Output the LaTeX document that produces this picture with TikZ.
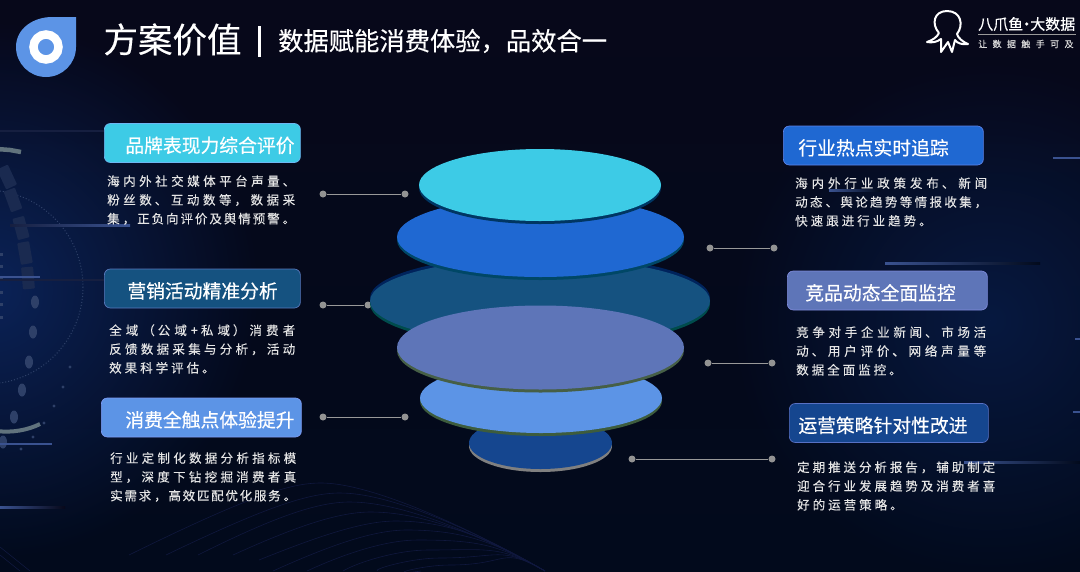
\documentclass[tikz,border=0pt]{standalone}
\usepackage{fontspec}
\setmainfont{Noto Sans CJK SC}
\newfontfamily\boldcjk[FakeBold=0.35]{Noto Sans CJK SC}
\newfontfamily\spacedcjk[LetterSpace=24,FakeBold=0.12]{Noto Sans CJK SC}
\newfontfamily\brandcjk[LetterSpace=60,FakeBold=0.2]{Noto Sans CJK SC}
\XeTeXlinebreaklocale "zh"
\newcommand\bodyskip{\XeTeXlinebreakskip=3pt plus 4pt minus 3pt\relax}
\usetikzlibrary{shapes.geometric,shadows,fadings}
\tikzfading[name=softglow, inner color=transparent!0, outer color=transparent!100]
\definecolor{bgtop}{HTML}{07081A}
\definecolor{bgbottom}{HTML}{020A1C}
\definecolor{glowblue}{HTML}{0B2358}
\definecolor{decor}{HTML}{1A2A50}
\definecolor{decorlight}{HTML}{2E4068}
\definecolor{barblue}{HTML}{3A5290}
\definecolor{faint}{HTML}{161F40}
\definecolor{wave}{HTML}{10183E}
\definecolor{cyanface}{HTML}{3DCBE6}
\definecolor{blueface}{HTML}{1F68D2}
\definecolor{tealface}{HTML}{155280}
\definecolor{slateface}{HTML}{5E75B8}
\definecolor{skyface}{HTML}{5C94E6}
\definecolor{navyface}{HTML}{15468F}
\begin{document}
\begin{tikzpicture}[
  x=1pt, y=-1pt,
  disc/.style n args={4}{draw=none, ellipse, inner sep=0pt, minimum width=#1pt, minimum height=#2pt, fill=#3,
    copy shadow={fill=#4, draw=none, shadow xshift=0pt, shadow yshift=-3pt}},
  titlebox/.style 2 args={draw=#1!75!blue!70!white, line width=0.7pt, fill=#1, rounded corners=6pt, anchor=west, text=white,
    inner xsep=0pt, inner ysep=0pt, minimum height=39pt, text width=#2pt, text height=21pt, text depth=2pt, align=left,
    font=\fontsize{18.8}{22}\selectfont\boldcjk},
  bodytext/.style={anchor=west, inner sep=0pt, align=justify, text width=#1pt, text=white!90!black,
    font=\fontsize{12.5}{18.8}\selectfont\spacedcjk, execute at begin node=\bodyskip},
  dotnode/.style={circle, fill=gray!85, inner sep=0pt, minimum size=7pt},
  link/.style={draw=gray!80, line width=0.8pt},
  bar/.style={barblue, line width=2pt},
  faintbar/.style={faint, line width=1.6pt},
  waveline/.style={wave, line width=0.6pt}
]
% Background
\useasboundingbox (0,0) rectangle (1080,571);
\begin{scope}
\clip (0,0) rectangle (1080,571);
\shade[top color=bgtop, bottom color=bgbottom] (0,0) rectangle (1080,571);
\fill[glowblue, path fading=softglow] (-10,290) circle (270);
\fill[glowblue!60!bgbottom, path fading=softglow] (990,320) circle (260);
% Left decoration
\draw[decorlight, line width=1pt, dotted] (-14,287) circle (97);
\draw[gray!60!cyan!60!black, line width=4.5pt] (-3,149) -- (10,150) -- (21,152);
\draw[gray!60!cyan!60!black, line width=4pt] (-3,431) .. controls (12,433) and (28,430) .. (40,424);
\foreach \px/\py/\ang in {28/278/5, 25/253/10, 21/228/15, 13/200/20, 7/177/25}
  \fill[decor, rotate around={\ang:(\px,\py)}, rounded corners=1pt] (\px-6,\py-11) rectangle (\px+6,\py+11);
\foreach \px/\py in {35/302, 33/332, 29/362, 22/390, 14/417, 3/442}
  \fill[decorlight] (\px,\py) ellipse (4 and 6.5);
\foreach \px/\py in {70/367, 63/387, 54/406, 44/423, 33/437, 21/449}
  \fill[decorlight] (\px,\py) circle (1.6);
\foreach \py in {253, 265, 278, 291, 303, 316}
  \fill[decorlight] (0,\py) rectangle (3,\py+3);
\draw[bar] (0,277) -- (40,277);
\draw[bar] (0,444) -- (52,444);
\shade[right color=bgtop, left color=barblue] (0,506) rectangle (65,508);
\shade[left color=faint, right color=barblue] (10,224) rectangle (130,226);
\draw[faintbar] (0,131) -- (104,131);
\draw[faintbar] (0,280) -- (104,280);
% Right decoration
\draw[bar] (1053,158) -- (1080,158);
\draw[bar] (1075,339) -- (1080,339);
\draw[bar] (1073,412) -- (1080,412);
\shade[left color=barblue, right color=bgbottom] (885,262) rectangle (1040,264);
\shade[left color=barblue, right color=bgbottom] (829,189) rectangle (880,191);
\shade[left color=barblue, right color=bgbottom] (964,461) rectangle (1080,463);
% Waves at the bottom
\foreach \sx/\sy/\px/\py in {129/555/321/483, 166/555/340/493, 198/555/350/502, 233/555/371/512, 259/560/396/521,
    273/571/407/530, 307/571/418/540, 343/571/428/550, 378/571/440/558, 421/571/450/565}
  \draw[waveline] (\sx,\sy) .. controls (\px-70,\py+12) and (\px-30,\py) .. (\px,\py)
    .. controls (\px+60,\py) and (500,545) .. (545,571);
\draw[waveline] (0,547) -- (30,571);
\draw[waveline] (0,555) -- (20,571);
\end{scope}
% Header
\fill[skyface] (76,17) -- (76,47) arc (0:180:30) .. controls (16,28) and (34,17) .. (52,17) -- cycle;
\node[circle, draw=white, line width=8.5pt, fill=skyface, minimum size=25pt, inner sep=0pt] (logo) at (46,47) {};
\node[text=white, inner sep=0pt, font=\fontsize{34.5}{38}\selectfont\boldcjk] (title) at (172.5,39.5) {方案价值};
\draw[white, line width=3pt] (259,26) -- (259,57);
\node[text=white, inner sep=0pt, anchor=west, font=\fontsize{25.3}{28}\selectfont\boldcjk] (subtitle) at (278,41) {数据赋能消费体验，品效合一};
% Brand
\draw[white, line width=2pt, line join=round] (939,33) .. controls (931,24) and (934,11) .. (947,11)
  .. controls (961,11) and (964,25) .. (957,34) .. controls (958,38) and (963,42) .. (968,44)
  .. controls (962,45) and (957,43) .. (955,40) -- (952,52) -- (948,42) -- (941,52) -- (941,39)
  .. controls (937,42) and (932,43) .. (927,42) .. controls (933,40) and (937,37) .. (939,33);
\node[text=white, inner sep=0pt, anchor=west, font=\fontsize{15}{17}\selectfont\boldcjk] (brand) at (978,24) {八爪鱼\kern-4pt·\kern-4pt 大数据};
\draw[gray!80, line width=1pt] (978,34) -- (1076,34);
\node[text=white!85!black, inner sep=0pt, anchor=west, font=\fontsize{9}{10}\selectfont\brandcjk] (slogan) at (978,44) {让数据触手可及};
% Define the links
\node[dotnode] (L1a) at (323,194) {};
\node[dotnode] (L1b) at (405,194) {};
\node[dotnode] (L2a) at (323,305) {};
\node[dotnode] (L2b) at (368,305) {};
\node[dotnode] (L3a) at (323,417) {};
\node[dotnode] (L3b) at (405,417) {};
\node[dotnode] (R1a) at (710,248) {};
\node[dotnode] (R1b) at (774,248) {};
\node[dotnode] (R2a) at (708,363) {};
\node[dotnode] (R2b) at (772,363) {};
\node[dotnode] (R3a) at (632,459) {};
\node[dotnode] (R3b) at (772,459) {};
\path[link] (L1a) -- (L1b);
\path[link] (L2a) -- (L2b);
\path[link] (L3a) -- (L3b);
\path[link] (R1a) -- (R1b);
\path[link] (R2a) -- (R2b);
\path[link] (R3a) -- (R3b);
% Define the discs
\node[ellipse, fill=blue!45!teal!50!black, draw=none, inner sep=0pt, minimum width=340pt, minimum height=86pt] (D3rim) at (540,298) {};
\node[disc={340}{86}{tealface}{teal!60!black}] (D3) at (540,301) {};
\node[disc={287}{80}{blueface}{blue!30!cyan!40!black}] (D2) at (540.5,237) {};
\node[disc={242}{72}{cyanface}{blue!30!teal!60!black}] (D1) at (540,185) {};
\node[disc={143}{52}{navyface}{gray}] (D6) at (540.5,443) {};
\node[disc={242}{70}{skyface}{green!20!gray!60!black}] (D5) at (541,398) {};
\node[disc={287}{84}{slateface}{green!15!gray!65!black}] (D4) at (540.5,347.5) {};
% Define the boxes
\node[titlebox={cyanface}{196}] (B1) at (104,143) {\hspace*{21pt}品牌表现力综合评价};
\node[titlebox={tealface}{196}] (B2) at (104,288.5) {\hspace*{23pt}营销活动精准分析};
\node[titlebox={skyface}{200}] (B3) at (101,417.5) {\hspace*{24pt}消费全触点体验提升};
\node[titlebox={blueface}{200}] (B4) at (783,145.5) {\hspace*{15pt}行业热点实时追踪};
\node[titlebox={slateface}{200}] (B5) at (787,290.5) {\hspace*{18pt}竞品动态全面监控};
\node[titlebox={navyface}{199}] (B6) at (789,423) {\hspace*{9pt}运营策略针对性改进};
% Define the texts
\node[bodytext=188] (T1) at (107,200) {海内外社交媒体平台声量、\break 粉丝数、互动数等，数据采\break 集，正负向评价及舆情预警。};
\node[bodytext=186] (T2) at (109,349) {全域（公域+私域）消费者\break 反馈数据采集与分析，活动\break 效果科学评估。};
\node[bodytext=186] (T3) at (110,477) {行业定制化数据分析指标模\break 型，深度下钻挖掘消费者真\break 实需求，高效匹配优化服务。};
\node[bodytext=192] (T4) at (795,202) {海内外行业政策发布、新闻\break 动态、舆论趋势等情报收集，\break 快速跟进行业趋势。};
\node[bodytext=190] (T5) at (796,351) {竞争对手企业新闻、市场活\break 动、用户评价、网络声量等\break 数据全面监控。};
\node[bodytext=198] (T6) at (797,486) {定期推送分析报告，辅助制定\break 迎合行业发展趋势及消费者喜\break 好的运营策略。};
\end{tikzpicture}
\end{document}
